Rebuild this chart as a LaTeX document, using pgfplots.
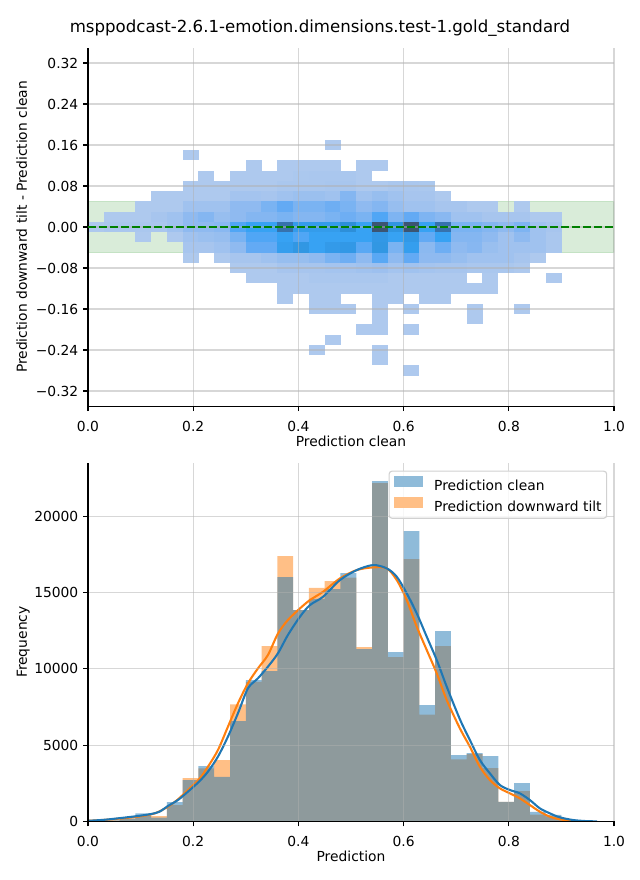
\documentclass[border=0pt]{standalone}
\usepackage{fontspec}
\setmainfont{DejaVu Sans}
\usepackage{pgfplots}
\pgfplotsset{compat=1.18}

\definecolor{tabblue}{RGB}{31,119,180}
\definecolor{taborange}{RGB}{255,127,14}
\definecolor{mplgreen}{RGB}{0,128,0}
\definecolor{gridgray}{RGB}{176,176,176}
\definecolor{blueleg}{RGB}{143,187,217}
\definecolor{orangeleg}{RGB}{255,191,134}

% one histogram cell, 0.03 x 0.02 in data units
\pgfdeclareplotmark{cell}{%
  \pgfpathrectanglecorners
    {\pgfplotspointaxisdirectionxy{-0.0152}{-0.0102}}
    {\pgfplotspointaxisdirectionxy{0.0152}{0.0102}}%
  \pgfusepathqfill}

\pgfplotsset{
  colormap={hist2d}{rgb255(0cm)=(174,201,238) rgb255(1cm)=(160,194,239)
    rgb255(2cm)=(143,186,240) rgb255(3cm)=(122,179,242) rgb255(4cm)=(99,170,244)
    rgb255(5cm)=(80,166,245) rgb255(6cm)=(55,162,243) rgb255(7cm)=(45,143,217)
    rgb255(8cm)=(54,114,173) rgb255(9cm)=(60,85,114)},
  mplsize/.style={scale only axis, width=5.26in, height=3.5875in, anchor=south west,
    xmin=0, xmax=1},
  mplaxis/.style={mplsize,
    axis x line*=bottom, axis y line*=left,
    axis line style={black, line width=0.8pt},
    tick align=outside, major tick length=3.5pt,
    tick style={black, line width=0.8pt},
    grid=major, grid style={gridgray, opacity=0.5, line width=0.8pt},
    axis on top, clip marker paths=true,
    scaled x ticks=false, scaled y ticks=false,
    xtick={0,0.2,0.4,0.6,0.8,1},
    xticklabels={0.0,0.2,0.4,0.6,0.8,1.0},
    xticklabel style={anchor=north, inner sep=0pt, yshift=-7bp},
    xlabel style={at={([yshift=-28.8bp]axis description cs:0.5,0)}, anchor=base},
    ylabel style={at={([xshift=-44bp]axis description cs:0,0.5)}, anchor=base},
  },
}

\begin{document}
\begin{tikzpicture}
\path[use as bounding box] (0,0) rectangle (6.4in,8.8in);
\node[anchor=base, font=\fontsize{12}{14}\selectfont] at (3.2in,8.47in)
  {msppodcast-2.6.1-emotion.dimensions.test-1.gold\_standard};

% ---------------- top: 2D histogram of the differences
\begin{axis}[mplaxis,
    at={(0.88in,4.736in)},
    ymin=-0.35, ymax=0.35,
    ytick={-0.32,-0.24,-0.16,-0.08,0,0.08,0.16,0.24,0.32},
    yticklabels={−0.32,−0.24,−0.16,−0.08,0.00,0.08,0.16,0.24,0.32},
    xlabel={Prediction clean},
    ylabel={Prediction downward tilt - Prediction clean},
    colormap name=hist2d, point meta min=1, point meta max=10,
  ]
  \addplot[fill=mplgreen, draw=mplgreen, fill opacity=0.15, draw opacity=0.15, line width=1pt]
    coordinates {(0,-0.05) (1,-0.05) (1,0.05) (0,0.05) (0,-0.05)};

  \addplot[scatter, only marks, mark=cell, point meta=explicit] coordinates {
    (0.465,0.16)[1]
    (0.195,0.14)[1]
    (0.315,0.12)[1] (0.375,0.12)[1] (0.405,0.12)[1] (0.435,0.12)[1] (0.465,0.12)[1] (0.525,0.12)[1] (0.555,0.12)[1]
    (0.225,0.10)[1] (0.285,0.10)[1] (0.315,0.10)[1] (0.345,0.10)[1] (0.375,0.10)[1] (0.405,0.10)[1.2]
    (0.435,0.10)[1.3] (0.465,0.10)[1.3] (0.495,0.10)[1.3] (0.525,0.10)[1]
    (0.195,0.08)[1] (0.225,0.08)[1] (0.255,0.08)[1] (0.285,0.08)[1] (0.315,0.08)[1] (0.345,0.08)[1]
    (0.375,0.08)[1.3] (0.405,0.08)[1.3] (0.435,0.08)[1.3] (0.465,0.08)[1.4] (0.495,0.08)[1.4]
    (0.525,0.08)[1] (0.555,0.08)[1] (0.585,0.08)[1.3] (0.615,0.08)[1.3] (0.645,0.08)[1.2]
    (0.135,0.06)[1] (0.165,0.06)[1] (0.195,0.06)[1] (0.225,0.06)[1] (0.255,0.06)[1] (0.285,0.06)[1.7]
    (0.315,0.06)[1.7] (0.345,0.06)[1.5] (0.375,0.06)[2] (0.405,0.06)[2.3] (0.435,0.06)[2.3] (0.465,0.06)[2]
    (0.495,0.06)[3.5] (0.525,0.06)[2] (0.555,0.06)[2.5] (0.585,0.06)[2] (0.615,0.06)[1.5] (0.645,0.06)[1.5]
    (0.675,0.06)[1]
    (0.105,0.04)[1] (0.135,0.04)[1] (0.165,0.04)[1] (0.195,0.04)[2] (0.225,0.04)[2] (0.255,0.04)[2]
    (0.285,0.04)[3] (0.315,0.04)[3] (0.345,0.04)[4] (0.375,0.04)[5] (0.405,0.04)[4] (0.435,0.04)[4]
    (0.465,0.04)[4.5] (0.495,0.04)[4] (0.525,0.04)[3] (0.555,0.04)[3.5] (0.585,0.04)[2.5] (0.615,0.04)[2]
    (0.645,0.04)[2] (0.675,0.04)[1.5] (0.705,0.04)[1.5] (0.735,0.04)[1] (0.765,0.04)[1] (0.825,0.04)[1]
    (0.045,0.02)[1] (0.075,0.02)[1] (0.105,0.02)[1] (0.135,0.02)[1.5] (0.165,0.02)[2] (0.195,0.02)[3]
    (0.225,0.02)[3.5] (0.255,0.02)[2.5] (0.285,0.02)[3] (0.315,0.02)[3.5] (0.345,0.02)[3.5] (0.375,0.02)[4]
    (0.405,0.02)[3.5] (0.435,0.02)[3.5] (0.465,0.02)[4] (0.495,0.02)[4.5] (0.525,0.02)[4] (0.555,0.02)[6]
    (0.585,0.02)[3.8] (0.615,0.02)[5] (0.645,0.02)[3.8] (0.675,0.02)[3.3] (0.705,0.02)[2] (0.735,0.02)[2]
    (0.765,0.02)[1.5] (0.795,0.02)[1.5] (0.825,0.02)[1.5] (0.855,0.02)[1] (0.885,0.02)[1]
    (0.015,0)[1] (0.045,0)[1.3] (0.075,0)[1.3] (0.105,0)[1.3] (0.135,0)[1.3] (0.165,0)[2] (0.195,0)[3]
    (0.225,0)[3] (0.255,0)[3.3] (0.285,0)[6] (0.315,0)[7] (0.345,0)[7] (0.375,0)[9] (0.405,0)[7.3]
    (0.435,0)[7.3] (0.465,0)[7.3] (0.495,0)[8] (0.525,0)[7] (0.555,0)[10] (0.585,0)[7.7] (0.615,0)[10]
    (0.645,0)[7] (0.675,0)[9] (0.705,0)[4] (0.735,0)[4] (0.765,0)[3.5] (0.795,0)[3] (0.825,0)[3.8]
    (0.855,0)[2] (0.885,0)[1.5]
    (0.105,-0.02)[1] (0.165,-0.02)[1] (0.195,-0.02)[2] (0.225,-0.02)[2.3] (0.255,-0.02)[2.5] (0.285,-0.02)[4]
    (0.315,-0.02)[6] (0.345,-0.02)[6] (0.375,-0.02)[7] (0.405,-0.02)[6] (0.435,-0.02)[7] (0.465,-0.02)[7]
    (0.495,-0.02)[7] (0.525,-0.02)[7] (0.555,-0.02)[7.5] (0.585,-0.02)[7] (0.615,-0.02)[7.5] (0.645,-0.02)[5]
    (0.675,-0.02)[7] (0.705,-0.02)[3.5] (0.735,-0.02)[3.5] (0.765,-0.02)[3] (0.795,-0.02)[2] (0.825,-0.02)[3]
    (0.855,-0.02)[2] (0.885,-0.02)[1.3]
    (0.195,-0.04)[1.5] (0.225,-0.04)[1.5] (0.255,-0.04)[2] (0.285,-0.04)[3] (0.315,-0.04)[5] (0.345,-0.04)[5]
    (0.375,-0.04)[7.2] (0.405,-0.04)[7.6] (0.435,-0.04)[7] (0.465,-0.04)[7.4] (0.495,-0.04)[7.5] (0.525,-0.04)[5.5]
    (0.555,-0.04)[7.6] (0.585,-0.04)[4] (0.615,-0.04)[7.2] (0.645,-0.04)[3.2] (0.675,-0.04)[4.5] (0.705,-0.04)[3]
    (0.735,-0.04)[3.4] (0.765,-0.04)[2.4] (0.795,-0.04)[2] (0.825,-0.04)[2] (0.855,-0.04)[2] (0.885,-0.04)[1.3]
    (0.195,-0.06)[1] (0.255,-0.06)[1] (0.285,-0.06)[1.5] (0.315,-0.06)[1.5] (0.345,-0.06)[2] (0.375,-0.06)[2.5]
    (0.405,-0.06)[2.5] (0.435,-0.06)[3] (0.465,-0.06)[4] (0.495,-0.06)[4.5] (0.525,-0.06)[3] (0.555,-0.06)[5.5]
    (0.585,-0.06)[3] (0.615,-0.06)[5] (0.645,-0.06)[3] (0.675,-0.06)[3] (0.705,-0.06)[2.5] (0.735,-0.06)[2]
    (0.765,-0.06)[2] (0.795,-0.06)[2] (0.825,-0.06)[1.5] (0.855,-0.06)[1]
    (0.285,-0.08)[1] (0.315,-0.08)[1] (0.345,-0.08)[1] (0.375,-0.08)[1.5] (0.405,-0.08)[1.5] (0.435,-0.08)[1.5]
    (0.465,-0.08)[1.7] (0.495,-0.08)[1.7] (0.525,-0.08)[2] (0.555,-0.08)[2.2] (0.585,-0.08)[1.7] (0.615,-0.08)[2]
    (0.645,-0.08)[1.7] (0.675,-0.08)[1.5] (0.705,-0.08)[1.5] (0.735,-0.08)[1.3] (0.765,-0.08)[1.3] (0.795,-0.08)[1.3]
    (0.825,-0.08)[1]
    (0.315,-0.10)[1] (0.345,-0.10)[1] (0.375,-0.10)[1] (0.405,-0.10)[1] (0.435,-0.10)[1.3] (0.465,-0.10)[1.3]
    (0.495,-0.10)[1.3] (0.525,-0.10)[1.3] (0.555,-0.10)[1.3] (0.585,-0.10)[1] (0.615,-0.10)[1] (0.645,-0.10)[1]
    (0.675,-0.10)[1] (0.705,-0.10)[1] (0.765,-0.10)[1] (0.885,-0.10)[1]
    (0.375,-0.12)[1] (0.405,-0.12)[1] (0.435,-0.12)[1] (0.465,-0.12)[1] (0.495,-0.12)[1] (0.525,-0.12)[1]
    (0.555,-0.12)[1] (0.585,-0.12)[1] (0.615,-0.12)[1] (0.645,-0.12)[1] (0.675,-0.12)[1] (0.705,-0.12)[1]
    (0.735,-0.12)[1] (0.765,-0.12)[1]
    (0.375,-0.14)[1] (0.435,-0.14)[1] (0.465,-0.14)[1] (0.555,-0.14)[1] (0.585,-0.14)[1] (0.645,-0.14)[1]
    (0.675,-0.14)[1]
    (0.435,-0.16)[1] (0.465,-0.16)[1] (0.495,-0.16)[1] (0.555,-0.16)[1] (0.615,-0.16)[1] (0.735,-0.16)[1]
    (0.825,-0.16)[1]
    (0.555,-0.18)[1] (0.735,-0.18)[1]
    (0.525,-0.20)[1] (0.555,-0.20)[1] (0.615,-0.20)[1]
    (0.465,-0.22)[1]
    (0.435,-0.24)[1] (0.555,-0.24)[1]
    (0.555,-0.26)[1]
    (0.615,-0.28)[1]
  };
\end{axis}
% the dashed zero line sits above the grid, so it has an axis of its own
\begin{axis}[mplsize, at={(0.88in,4.736in)}, ymin=-0.35, ymax=0.35, hide axis]
  \addplot[mplgreen, line width=1.5pt, dash pattern=on 5.55pt off 2.4pt]
    coordinates {(0,0) (1,0)};
\end{axis}

% ---------------- bottom: histograms with KDE
\begin{axis}[mplaxis,
    at={(0.88in,0.585in)},
    ymin=0, ymax=23500,
    ytick={0,5000,10000,15000,20000},
    yticklabels={0,5000,10000,15000,20000},
    xlabel={Prediction},
    ylabel={Frequency},
    legend cell align=left,
    legend style={at={(0.987,0.978)}, anchor=north east,
      draw=black!18, line width=0.8pt, rounded corners=2pt,
      fill=white, fill opacity=0.8, text opacity=1,
      inner xsep=3.6bp, inner ysep=3.5bp, row sep=3bp, column sep=8bp,
      nodes={inner sep=0pt}, font=\fontsize{10}{12}\selectfont},
  ]
  \addplot[const plot, draw=none, fill=taborange, fill opacity=0.5, forget plot] coordinates {
    (0,30) (0.03,70) (0.06,180) (0.09,360) (0.12,360) (0.15,1080) (0.18,2840) (0.21,3480)
    (0.24,4020) (0.27,7680) (0.30,9140) (0.33,11490) (0.36,17390) (0.39,13850) (0.42,15310)
    (0.45,15750) (0.48,15970) (0.51,11430) (0.54,22170) (0.57,10770) (0.60,17190) (0.63,7000)
    (0.66,11490) (0.69,4070) (0.72,4420) (0.75,3500) (0.78,1280) (0.81,1990) (0.84,450)
    (0.87,330) (0.90,80) (0.93,40) (0.96,40)
  } \closedcycle;
  \addplot[const plot, draw=none, fill=tabblue, fill opacity=0.5, forget plot] coordinates {
    (0,30) (0.03,80) (0.06,200) (0.09,537) (0.12,250) (0.15,1275) (0.18,2710) (0.21,3630)
    (0.24,2930) (0.27,6570) (0.30,9266) (0.33,9857) (0.36,16010) (0.39,13850) (0.42,14590)
    (0.45,15225) (0.48,16273) (0.51,11297) (0.54,22299) (0.57,11101) (0.60,19024) (0.63,7629)
    (0.66,12476) (0.69,4355) (0.72,4480) (0.75,4280) (0.78,1280) (0.81,2520) (0.84,630)
    (0.87,430) (0.90,100) (0.93,60) (0.96,60)
  } \closedcycle;

  \addplot[taborange, line width=1.5pt, smooth, forget plot] coordinates {
    (0,45) (0.03,100) (0.06,190) (0.095,315) (0.127,533) (0.152,969) (0.171,1449) (0.19,2060)
    (0.211,2758) (0.228,3587) (0.247,4678) (0.266,6206) (0.285,7734) (0.304,9044) (0.323,10026)
    (0.342,10899) (0.361,12300) (0.380,13200) (0.403,13960) (0.422,14506) (0.447,15052)
    (0.479,15924) (0.511,16470) (0.542,16645) (0.568,16580) (0.587,15815) (0.606,14506)
    (0.625,12760) (0.644,11231) (0.663,9703) (0.682,7957) (0.707,6100) (0.726,4900)
    (0.745,3590) (0.764,2718) (0.783,2172) (0.802,1845) (0.821,1517) (0.840,1080)
    (0.859,644) (0.878,317) (0.897,142) (0.922,33) (0.95,8)
  };
  \addplot[tabblue, line width=1.5pt, smooth, forget plot] coordinates {
    (0,45) (0.03,110) (0.057,207) (0.095,360) (0.12,491) (0.136,644) (0.152,1015) (0.171,1408)
    (0.19,1954) (0.211,2609) (0.228,3264) (0.247,4246) (0.266,5556) (0.285,7083) (0.304,8720)
    (0.323,9375) (0.342,10139) (0.361,11012) (0.380,12213) (0.403,13414) (0.422,14178)
    (0.447,14724) (0.479,15815) (0.511,16470) (0.542,16798) (0.568,16580) (0.587,16033)
    (0.606,14942) (0.625,13632) (0.644,12105) (0.663,10576) (0.682,8830) (0.707,6700)
    (0.726,5337) (0.745,4027) (0.764,3155) (0.783,2390) (0.802,2063) (0.821,1845)
    (0.840,1408) (0.859,862) (0.878,535) (0.897,273) (0.922,98) (0.945,30) (0.968,8)
  };

  \addlegendimage{legend image code/.code={\fill[blueleg, fill opacity=1, sharp corners] (0bp,0bp) rectangle (20bp,7bp);}}
  \addlegendentry{Prediction clean}
  \addlegendimage{legend image code/.code={\fill[orangeleg, fill opacity=1, sharp corners] (0bp,0bp) rectangle (20bp,7bp);}}
  \addlegendentry{Prediction downward tilt}
\end{axis}
\end{tikzpicture}
\end{document}
